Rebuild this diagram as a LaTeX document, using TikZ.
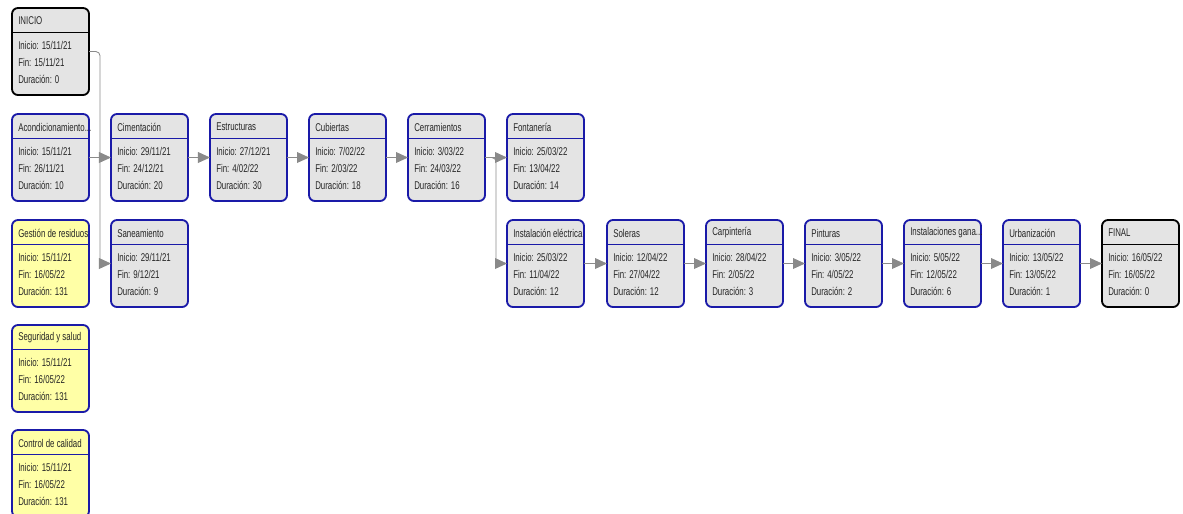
\documentclass[tikz,border=0pt]{standalone}
\usepackage{fontspec}
\setmainfont{Liberation Sans}[FakeStretch=0.7]
\usepackage{tikz}
\usetikzlibrary{arrows.meta}
\usepackage{xcolor}
\definecolor{gris_caja}{HTML}{E4E4E4}
\definecolor{amarillo_caja}{HTML}{FFFFA6}
\definecolor{azul_borde}{HTML}{1A1AA8}
\definecolor{gris_flecha}{HTML}{8A8A8A}

\tikzset{
    caja/.style={rectangle, rounded corners=0.15cm, line width=1.3pt, anchor=north west,
        minimum width=1.925cm, minimum height=2.175cm, inner sep=0pt, outer sep=0pt},
    separa/.style={line width=0.6pt},
    texto/.style={anchor=west, inner sep=0pt, text=black!85, font=\fontsize{8}{9}\selectfont},
    conector/.style={draw=gris_flecha, line width=0.6pt,
        -{Triangle[length=0.3cm, width=0.27cm, fill=gris_flecha]}}
}

% #1 nombre, #2 esquina, #3 borde, #4 relleno, #5 titulo, #6 inicio, #7 fin, #8 duracion
\newcommand{\tarea}[8]{%
    \node[caja, draw=#3, fill=#4] (#1) at (#2) {};
    \draw[separa, #3] (#1.north west) ++(0,24) -- ++(77,0);
    \path (#1.north west) ++(6,13) node[texto] {#5}
        ++(0,24) node[texto] {Inicio: #6}
        ++(0,17) node[texto] {Fin: #7}
        ++(0,17) node[texto] {Duración: #8};
}

\begin{document}
\begin{tikzpicture}[x=0.025cm, y=-0.025cm]

    \useasboundingbox (0,0) rectangle (1183,513);

    % Columna de inicio y tareas generales
    \tarea{inicio}{12,8}{black}{gris_caja}{INICIO}{15/11/21}{15/11/21}{0}
    \tarea{acond}{12,114}{azul_borde}{gris_caja}{Acondicionamiento...}{15/11/21}{26/11/21}{10}
    \tarea{gest}{12,220}{azul_borde}{amarillo_caja}{Gestión de residuos}{15/11/21}{16/05/22}{131}
    \tarea{seg}{12,325}{azul_borde}{amarillo_caja}{Seguridad y salud}{15/11/21}{16/05/22}{131}
    \tarea{ctrl}{12,430}{azul_borde}{amarillo_caja}{Control de calidad}{15/11/21}{16/05/22}{131}

    % Primera fila
    \tarea{cim}{111,114}{azul_borde}{gris_caja}{Cimentación}{29/11/21}{24/12/21}{20}
    \tarea{san}{111,220}{azul_borde}{gris_caja}{Saneamiento}{29/11/21}{9/12/21}{9}
    \tarea{est}{210,114}{azul_borde}{gris_caja}{Estructuras}{27/12/21}{4/02/22}{30}
    \tarea{cub}{309,114}{azul_borde}{gris_caja}{Cubiertas}{7/02/22}{2/03/22}{18}
    \tarea{cer}{408,114}{azul_borde}{gris_caja}{Cerramientos}{3/03/22}{24/03/22}{16}
    \tarea{fon}{507,114}{azul_borde}{gris_caja}{Fontanería}{25/03/22}{13/04/22}{14}

    % Segunda fila
    \tarea{inst}{507,220}{azul_borde}{gris_caja}{Instalación eléctrica}{25/03/22}{11/04/22}{12}
    \tarea{sol}{607,220}{azul_borde}{gris_caja}{Soleras}{12/04/22}{27/04/22}{12}
    \tarea{carp}{706,220}{azul_borde}{gris_caja}{Carpintería}{28/04/22}{2/05/22}{3}
    \tarea{pint}{805,220}{azul_borde}{gris_caja}{Pinturas}{3/05/22}{4/05/22}{2}
    \tarea{insg}{904,220}{azul_borde}{gris_caja}{Instalaciones gana...}{5/05/22}{12/05/22}{6}
    \tarea{urb}{1003,220}{azul_borde}{gris_caja}{Urbanización}{13/05/22}{13/05/22}{1}
    \tarea{final}{1102,220}{black}{gris_caja}{FINAL}{16/05/22}{16/05/22}{0}

    % Conectores
    \draw[conector, rounded corners=3] (inicio.east) -- ++(11,0) |- (san.west);
    \draw[conector] (acond.east) -- (cim.west);
    \draw[conector] (cim.east) -- (est.west);
    \draw[conector] (est.east) -- (cub.west);
    \draw[conector] (cub.east) -- (cer.west);
    \draw[conector] (cer.east) -- (fon.west);
    \draw[conector, rounded corners=3] (cer.east) -- ++(11,0) |- (inst.west);
    \draw[conector] (inst.east) -- (sol.west);
    \draw[conector] (sol.east) -- (carp.west);
    \draw[conector] (carp.east) -- (pint.west);
    \draw[conector] (pint.east) -- (insg.west);
    \draw[conector] (insg.east) -- (urb.west);
    \draw[conector] (urb.east) -- (final.west);
\end{tikzpicture}
\end{document}
